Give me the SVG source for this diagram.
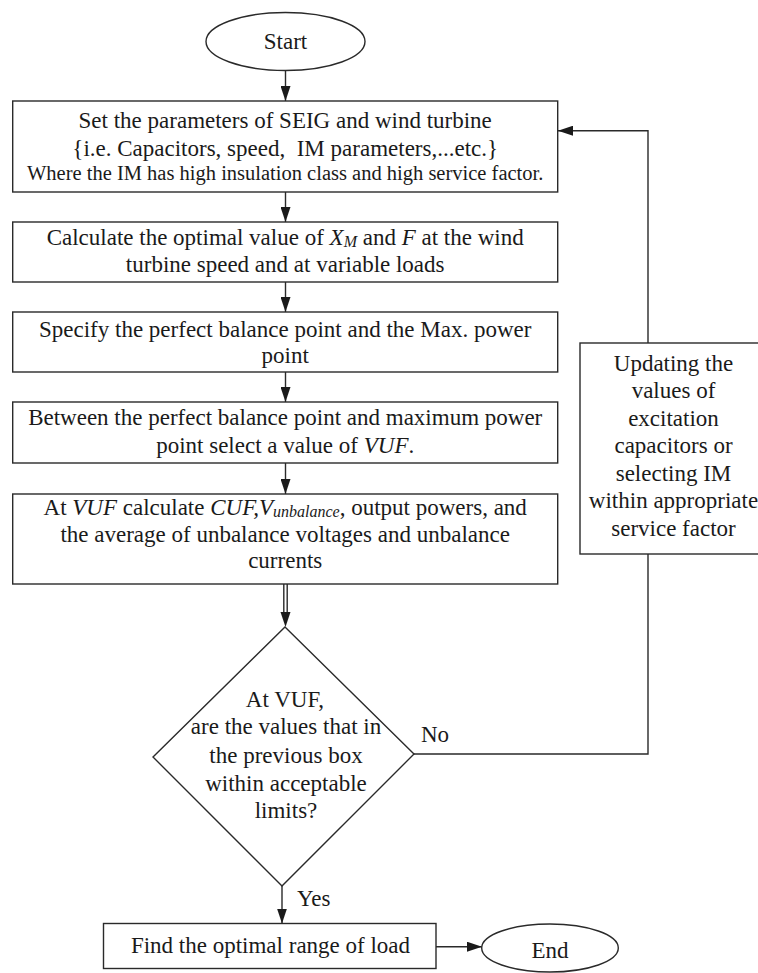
<svg xmlns="http://www.w3.org/2000/svg" width="758" height="973" viewBox="0 0 758 973">
<defs>
<marker id="arr" markerUnits="userSpaceOnUse" markerWidth="15" markerHeight="10" refX="15" refY="5" orient="auto">
<path d="M0,0 L15,5 L0,10 z" fill="#1a1a1a"/>
</marker>
<style>
.shape{fill:#fff;stroke:#2a2a2a;stroke-width:1.4}
.conn{fill:none;stroke:#2a2a2a;stroke-width:1.4}
text{font-family:"Liberation Serif","Times New Roman",serif;font-size:23px;fill:#1a1a1a;text-anchor:middle}
.small{font-size:20.5px}
.it{font-style:italic}
.sub{font-style:italic;font-size:16px}
.lbl{text-anchor:start}
</style>
</defs>
<rect width="758" height="973" fill="#fff"/>
<g id="connectors">
<line class="conn" x1="285.5" y1="70.5" x2="285.5" y2="101" marker-end="url(#arr)"/>
<line class="conn" x1="285.5" y1="192" x2="285.5" y2="222" marker-end="url(#arr)"/>
<line class="conn" x1="285.5" y1="282" x2="285.5" y2="312" marker-end="url(#arr)"/>
<line class="conn" x1="285.5" y1="372" x2="285.5" y2="402" marker-end="url(#arr)"/>
<line class="conn" x1="285.5" y1="463" x2="285.5" y2="494" marker-end="url(#arr)"/>
<line class="conn" x1="283.8" y1="584" x2="283.8" y2="613"/>
<line class="conn" x1="287.2" y1="584" x2="287.2" y2="613"/>
<polygon points="280.5,612 290.5,612 285.5,627" fill="#1a1a1a"/>
<polyline class="conn" points="414,754 648,754 648,554"/>
<polyline class="conn" points="648,343 648,130.7 558,130.7" marker-end="url(#arr)"/>
<line class="conn" x1="282" y1="886" x2="282" y2="923.5" marker-end="url(#arr)"/>
<line class="conn" x1="436" y1="946.7" x2="482" y2="946.7" marker-end="url(#arr)"/>
<text class="lbl" x="421" y="742">No</text>
<text class="lbl" x="297" y="906">Yes</text>
</g>
<g id="start">
<ellipse class="shape" cx="285.5" cy="41.5" rx="79.5" ry="29"/>
<text x="285.5" y="49">Start</text>
</g>
<g id="set-parameters">
<rect class="shape" x="12.7" y="101" width="545" height="91"/>
<text x="285.2" y="128">Set the parameters of SEIG and wind turbine</text>
<text x="285.2" y="156" xml:space="preserve">{i.e. Capacitors, speed,  IM parameters,...etc.}</text>
<text class="small" x="285.2" y="180">Where the IM has high insulation class and high service factor.</text>
</g>
<g id="calculate-xm-f">
<rect class="shape" x="12.7" y="222" width="545" height="60"/>
<text x="285.2" y="245">Calculate the optimal value of <tspan class="it">X</tspan><tspan class="sub" dy="2">M</tspan><tspan dy="-2"> and </tspan><tspan class="it">F</tspan> at the wind</text>
<text x="285.2" y="272">turbine speed and at variable loads</text>
</g>
<g id="specify-points">
<rect class="shape" x="12.7" y="312" width="545" height="60"/>
<text x="285.2" y="336.5">Specify the perfect balance point and the Max. power</text>
<text x="285.2" y="363">point</text>
</g>
<g id="select-vuf">
<rect class="shape" x="12.7" y="402" width="545" height="61"/>
<text x="285.2" y="425">Between the perfect balance point and maximum power</text>
<text x="285.2" y="452.5">point select a value of <tspan class="it">VUF</tspan>.</text>
</g>
<g id="calculate-cuf">
<rect class="shape" x="12.7" y="494" width="545" height="90"/>
<text x="285.2" y="515">At <tspan class="it">VUF</tspan> calculate <tspan class="it">CUF,V</tspan><tspan class="sub" dy="2">unbalance</tspan><tspan dy="-2">, output powers, and</tspan></text>
<text x="285.2" y="541.7">the average of unbalance voltages and unbalance</text>
<text x="285.2" y="568.3">currents</text>
</g>
<g id="decision">
<polygon class="shape" points="285,627 414,754 282,886 153,757"/>
<text x="285" y="706.5">At VUF,</text>
<text x="286" y="734">are the values that in</text>
<text x="286" y="762.5">the previous box</text>
<text x="286" y="790.5">within acceptable</text>
<text x="286" y="817.5">limits?</text>
</g>
<g id="update">
<rect class="shape" x="580" y="343" width="187" height="211"/>
<text x="673.5" y="370.5">Updating the</text>
<text x="673.5" y="398">values of</text>
<text x="673.5" y="425.5">excitation</text>
<text x="673.5" y="453">capacitors or</text>
<text x="673.5" y="480.5">selecting IM</text>
<text x="673.5" y="508">within appropriate</text>
<text x="673.5" y="535.5">service factor</text>
</g>
<g id="find-range">
<rect class="shape" x="103.5" y="923.5" width="332.5" height="45"/>
<text x="270.5" y="953.3">Find the optimal range of load</text>
</g>
<g id="end">
<ellipse class="shape" cx="550" cy="948" rx="68.3" ry="24"/>
<text x="550" y="958">End</text>
</g>
</svg>
